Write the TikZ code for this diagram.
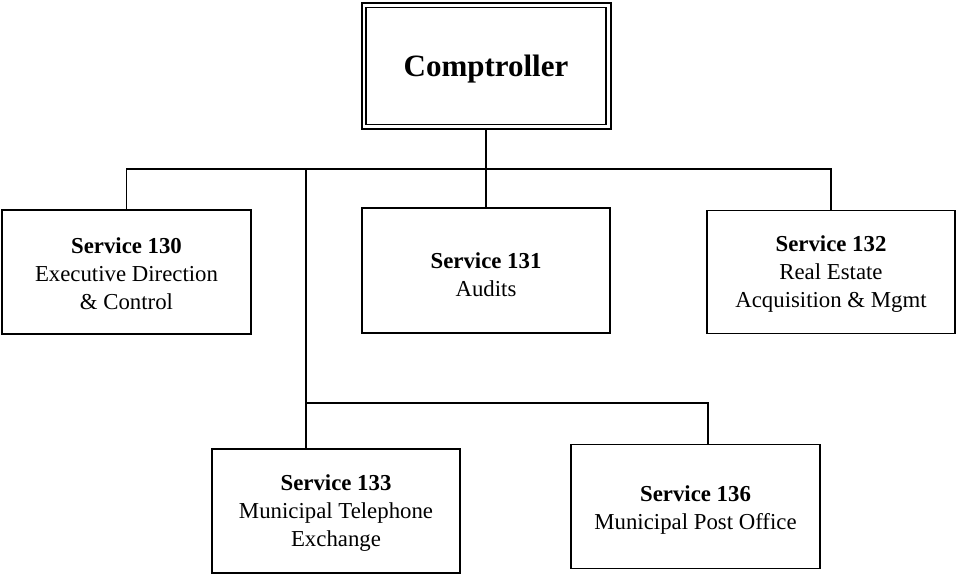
\documentclass[tikz,border=0pt]{standalone}
\usepackage{fontspec}
\setmainfont{Liberation Serif}
\begin{document}
\begin{tikzpicture}[x=1pt,y=-1pt,
  box/.style={draw,line width=1.6pt,inner sep=0pt},
  txt/.style={inner sep=0pt,align=center,font=\fontsize{22.8}{28}\selectfont},
  link/.style={line width=1.6pt}]
\useasboundingbox (0,0) rectangle (957,576);
% Comptroller
\draw[line width=2pt] (361.5,3) rectangle (610.5,129);
\draw[line width=1.6pt] (366,7.5) rectangle (606,124.5);
\node[inner sep=0pt,font=\fontsize{31}{36}\selectfont\bfseries] (c) at (486,69) {Comptroller};
\coordinate (cb) at (486,130);
% boxes
\node[box,minimum width=249,minimum height=124] (s130) at (126.5,272) {};
\node[box,minimum width=248,minimum height=125] (s131) at (486,270.5) {};
\node[box,minimum width=248,minimum height=123] (s132) at (831,272) {};
\node[box,minimum width=248,minimum height=124] (s133) at (336,511) {};
\node[box,minimum width=249,minimum height=124] (s136) at (695.5,506.5) {};
\node[txt] (t130) at ([yshift=-2pt]s130.center) {\textbf{Service 130}\\Executive Direction\\\& Control};
\node[txt] (t131) at ([yshift=-4pt]s131.center) {\textbf{Service 131}\\Audits};
\node[txt] (t132) at ([yshift=-2pt]s132.center) {\textbf{Service 132}\\Real Estate\\Acquisition \& Mgmt};
\node[txt] (t133) at ([yshift=-2pt]s133.center) {\textbf{Service 133}\\Municipal Telephone\\Exchange};
\node[txt] (t136) at ([yshift=-4pt]s136.center) {\textbf{Service 136}\\Municipal Post Office};
% connectors
\coordinate (h1) at (486,169);
\draw[link] (cb) -- (s131.north);
\draw[link] (s130.north) |- (s132.north |- h1) -- (s132.north);
\coordinate (v1) at (306,169);
\draw[link] (v1) -- (s133.north -| v1);
\coordinate (h2) at (306,403);
\coordinate (h3) at (708,403);
\draw[link] (h2) -- (h3) -- (h3 |- s136.north);
\end{tikzpicture}
\end{document}
